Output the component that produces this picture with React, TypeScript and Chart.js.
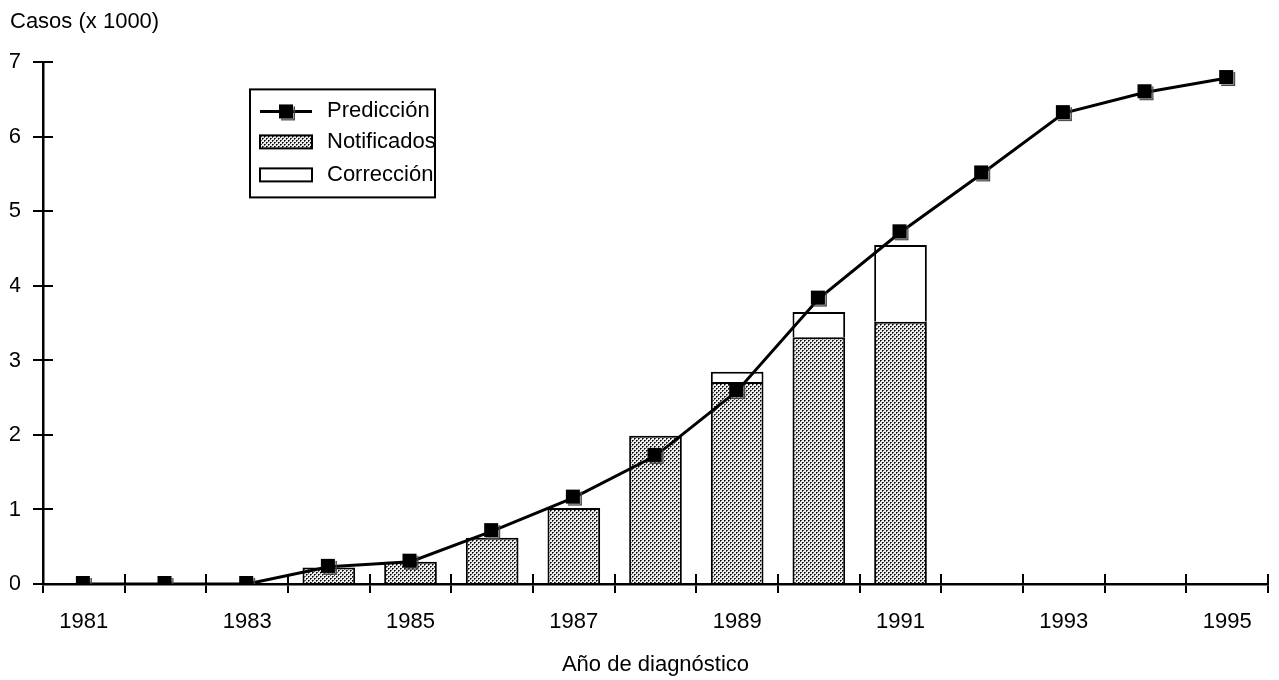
import React, { useEffect, useRef } from 'react';
import { Chart, registerables } from 'chart.js';

Chart.register(...registerables);

// ---------- data ----------
const years = ['1981', '1982', '1983', '1984', '1985', '1986', '1987', '1988', '1989', '1990', '1991', '1992', '1993', '1994', '1995'];
const shownYearLabels = ['1981', '', '1983', '', '1985', '', '1987', '', '1989', '', '1991', '', '1993', '', '1995'];
const prediccion = [0, 0, 0, 0.23, 0.30, 0.71, 1.16, 1.72, 2.59, 3.83, 4.72, 5.51, 6.32, 6.60, 6.79];
const notificados = [null, null, null, 0.22, 0.30, 0.62, 1.02, 1.99, 2.71, 3.31, 3.52, null, null, null, null];
const correccion = [null, null, null, null, null, null, null, null, 0.14, 0.34, 1.03, null, null, null, null];
const yTickValues = [0, 1, 2, 3, 4, 5, 6, 7];
const legendLabels = ['Predicción', 'Notificados', 'Corrección'];
const yTitle = 'Casos (x 1000)';
const xTitle = 'Año de diagnóstico';

const FONT = '"Liberation Sans Narrow", "Arial Narrow", "Liberation Sans", Arial, sans-serif';

function makePattern(): CanvasPattern | string {
  const c = document.createElement('canvas');
  c.width = 4;
  c.height = 4;
  const g = c.getContext('2d');
  if (!g) return '#999';
  g.fillStyle = '#ececec';
  g.fillRect(0, 0, 4, 4);
  g.fillStyle = '#000';
  g.fillRect(0, 0, 1, 1);
  g.fillRect(2, 2, 1, 1);
  g.fillStyle = '#555';
  g.fillRect(1, 0, 1, 1);
  g.fillRect(0, 1, 1, 1);
  g.fillRect(3, 2, 1, 1);
  g.fillRect(2, 3, 1, 1);
  const p = g.createPattern(c, 'repeat');
  return p || '#999';
}

function makeMarker(): HTMLCanvasElement {
  const c = document.createElement('canvas');
  c.width = 18;
  c.height = 18;
  const g = c.getContext('2d')!;
  g.strokeStyle = '#444';
  g.lineWidth = 1.5;
  g.beginPath();
  g.moveTo(16.25, 3);
  g.lineTo(16.25, 16.25);
  g.lineTo(3, 16.25);
  g.stroke();
  g.fillStyle = '#000';
  g.fillRect(1, 1, 14, 14);
  return c;
}

export default function App() {
  const ref = useRef<HTMLCanvasElement | null>(null);

  useEffect(() => {
    if (!ref.current) return;
    const pattern = makePattern();
    const marker = makeMarker();

    const innerTicks = {
      id: 'innerTicks',
      afterDraw(chart: any) {
        const { ctx, chartArea } = chart;
        const xs = chart.scales.x;
        const ys = chart.scales.y;
        ctx.save();
        ctx.strokeStyle = '#000';
        ctx.lineWidth = 2;
        const n = years.length;
        for (let i = 0; i <= n; i++) {
          const px = Math.round(xs.left + (i * xs.width) / n);
          ctx.beginPath();
          ctx.moveTo(px, chartArea.bottom);
          ctx.lineTo(px, chartArea.bottom - 10);
          ctx.stroke();
        }
        yTickValues.forEach((v) => {
          const py = Math.round(ys.getPixelForValue(v));
          ctx.beginPath();
          ctx.moveTo(chartArea.left, py);
          ctx.lineTo(chartArea.left + 10, py);
          ctx.stroke();
        });
        ctx.restore();
      },
    };

    const boxLegend = {
      id: 'boxLegend',
      afterDraw(chart: any) {
        const { ctx, chartArea } = chart;
        const bx = chartArea.left + 207;
        const by = chartArea.top + 27;
        const bw = 185;
        const bh = 108;
        ctx.save();
        ctx.fillStyle = '#fff';
        ctx.fillRect(bx, by, bw, bh);
        ctx.strokeStyle = '#000';
        ctx.lineWidth = 2;
        ctx.strokeRect(bx, by, bw, bh);
        const rows = [by + 22, by + 53, by + 86];
        const sx = bx + 10;
        const sw = 52;
        // Predicción
        ctx.lineWidth = 3;
        ctx.beginPath();
        ctx.moveTo(sx, rows[0]);
        ctx.lineTo(sx + sw, rows[0]);
        ctx.stroke();
        ctx.drawImage(marker, sx + sw / 2 - 8, rows[0] - 8);
        // Notificados
        ctx.lineWidth = 2;
        ctx.fillStyle = pattern as any;
        ctx.fillRect(sx, rows[1] - 7, sw, 13);
        ctx.strokeRect(sx, rows[1] - 7, sw, 13);
        // Corrección
        ctx.fillStyle = '#fff';
        ctx.fillRect(sx, rows[2] - 7, sw, 13);
        ctx.strokeRect(sx, rows[2] - 7, sw, 13);
        ctx.fillStyle = '#000';
        ctx.font = `22px ${FONT}`;
        ctx.textBaseline = 'middle';
        ctx.textAlign = 'left';
        legendLabels.forEach((t, i) => ctx.fillText(t, sx + 67, rows[i]));
        ctx.restore();
      },
    };

    const chart = new Chart(ref.current, {
      type: 'bar',
      data: {
        labels: years,
        datasets: [
          {
            type: 'line',
            label: legendLabels[0],
            data: prediccion,
            borderColor: '#000',
            backgroundColor: '#000',
            borderWidth: 3,
            tension: 0,
            pointStyle: marker as any,
            pointRadius: 8,
            stack: 'pred',
            order: 0,
          } as any,
          {
            type: 'bar',
            label: legendLabels[1],
            data: notificados,
            backgroundColor: pattern as any,
            borderColor: '#000',
            borderWidth: 2,
            barPercentage: 0.645,
            categoryPercentage: 1,
            stack: 'obs',
            order: 1,
          } as any,
          {
            type: 'bar',
            label: legendLabels[2],
            data: correccion,
            backgroundColor: '#fff',
            borderColor: '#000',
            borderWidth: 2,
            barPercentage: 0.645,
            categoryPercentage: 1,
            stack: 'obs',
            order: 2,
          } as any,
        ],
      },
      options: {
        animation: false,
        responsive: true,
        maintainAspectRatio: false,
        layout: { padding: { left: 10, right: 2, top: 0, bottom: 0 } },
        plugins: {
          legend: { display: false },
          tooltip: { enabled: false },
          title: {
            display: true,
            text: yTitle,
            align: 'start',
            color: '#000',
            font: { family: FONT, size: 22, weight: 'normal' as any, lineHeight: 1.2 },
            padding: { top: 9, bottom: 27 },
          },
        },
        scales: {
          x: {
            stacked: true,
            offset: true,
            border: { display: true, color: '#000', width: 2.5 },
            grid: { offset: true, drawOnChartArea: false, drawTicks: true, tickLength: 9, color: '#000', lineWidth: 2 },
            ticks: {
              autoSkip: false,
              maxRotation: 0,
              color: '#000',
              padding: 16,
              font: { family: FONT, size: 22 },
              callback: (_v: any, i: number) => shownYearLabels[i],
            },
            title: {
              display: true,
              text: xTitle,
              color: '#000',
              font: { family: FONT, size: 22 },
              padding: { top: 0, bottom: 2 },
            },
            afterFit: (s: any) => {
              s.height = 96;
            },
          },
          y: {
            stacked: true,
            min: 0,
            max: 7,
            border: { display: true, color: '#000', width: 2.5 },
            grid: { drawOnChartArea: false, drawTicks: true, tickLength: 10, color: '#000', lineWidth: 2 },
            ticks: {
              stepSize: 1,
              color: '#000',
              padding: 12,
              font: { family: FONT, size: 22 },
            },
            afterFit: (s: any) => {
              s.width = 33;
            },
          },
        },
      },
      plugins: [innerTicks, boxLegend],
    });

    return () => chart.destroy();
  }, []);

  return (
    <div style={{ position: 'fixed', left: 0, top: 0, width: 1279, height: 680, background: '#fff' }}>
      <canvas ref={ref} />
    </div>
  );
}
